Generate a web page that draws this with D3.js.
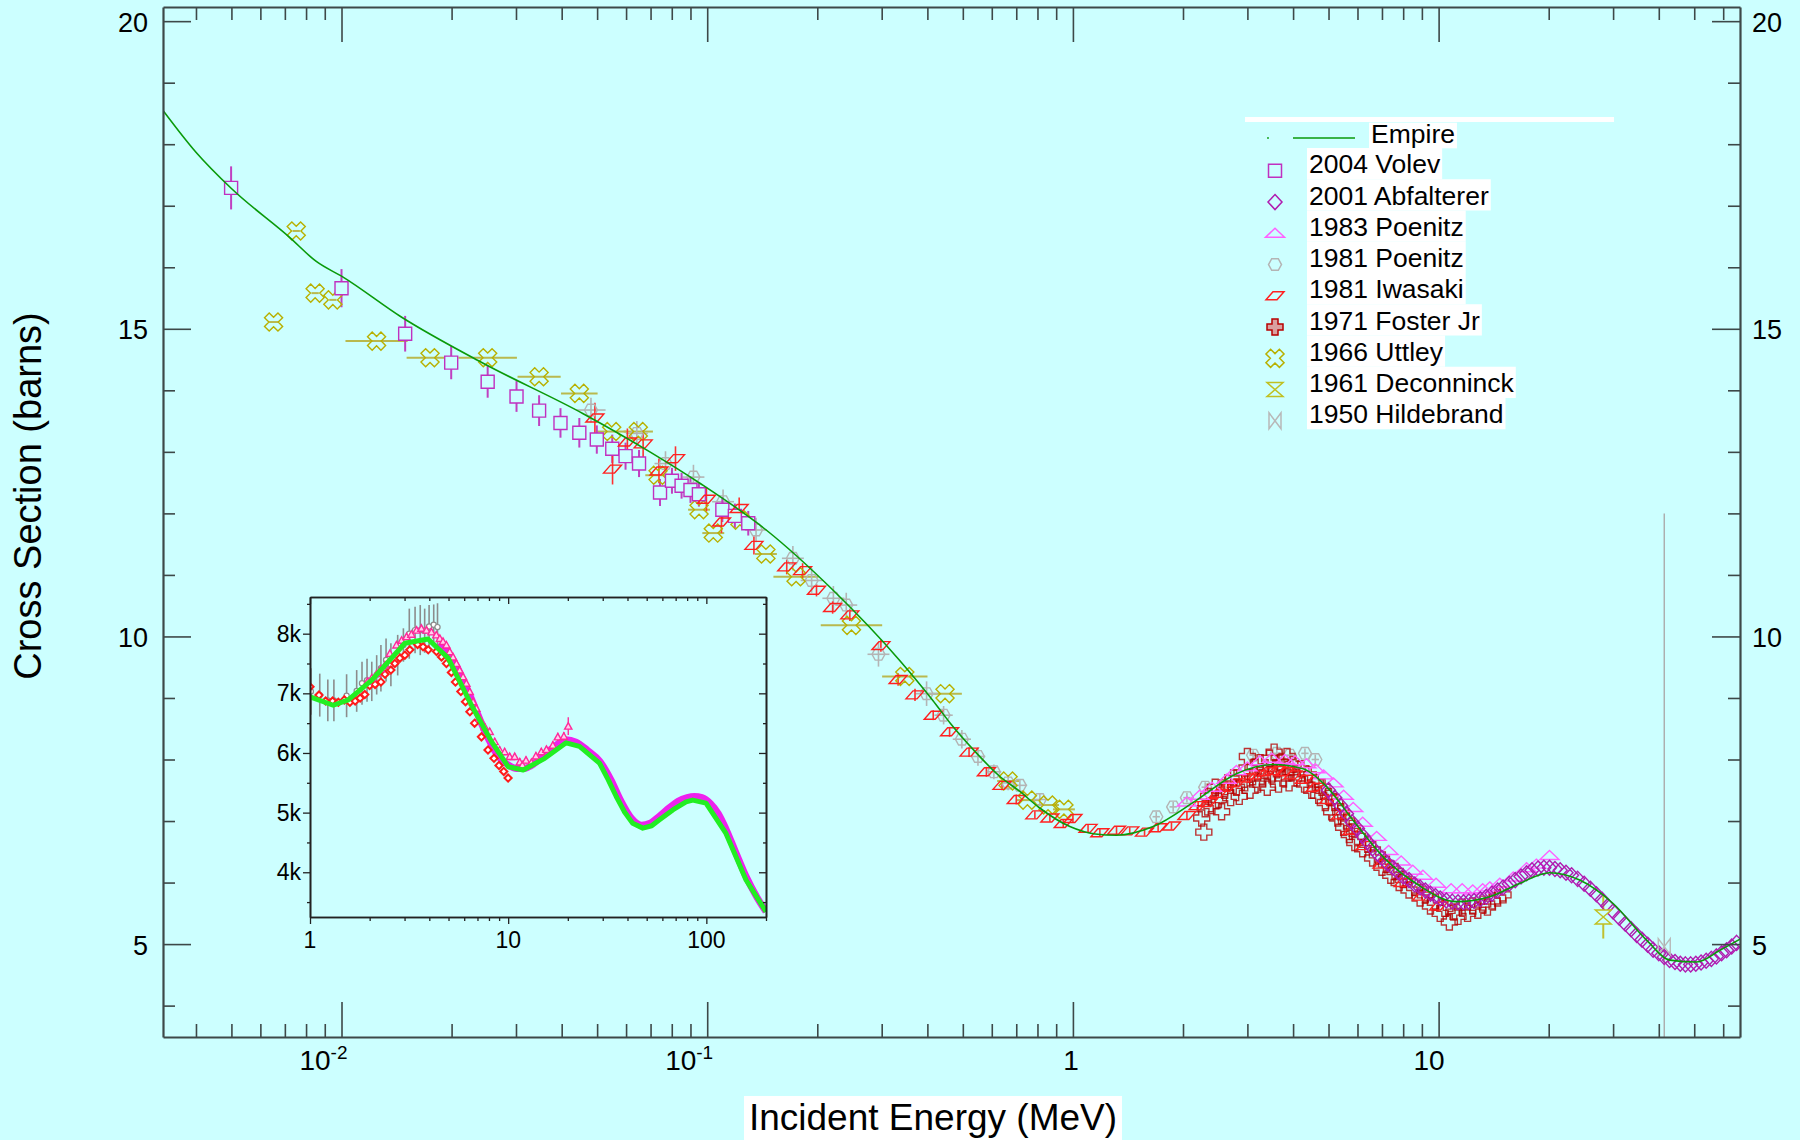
<!DOCTYPE html>
<html>
<head>
<meta charset="utf-8">
<script src="https://cdn.jsdelivr.net/npm/d3@7"></script>
<style>
  html, body { margin: 0; padding: 0; background: #ccffff; }
  svg { display: block; font-family: Arial, "Liberation Sans", sans-serif; }
</style>
</head>
<body>
<svg id="chart" width="1800" height="1140"></svg>
<script>
// ---------- Total cross section data (E in MeV, sigma in barns) ----------

// Model calculation
const empire = [
  [3.25e-3, 18.55], [4.0e-3, 17.87], [5.0e-3, 17.28], [7.2e-3, 16.49], [8.55e-3, 16.09],
  [0.0101, 15.84], [0.0145, 15.20], [0.0244, 14.44], [0.0458, 13.62], [0.0697, 13.00],
  [0.0955, 12.49], [0.145, 11.73], [0.221, 10.75], [0.336, 9.61], [0.414, 8.96],
  [0.462, 8.59], [0.542, 8.12], [0.627, 7.74], [0.716, 7.48], [0.808, 7.22],
  [0.981, 6.91], [1.15, 6.79], [1.316, 6.77], [1.658, 6.91], [2.18, 7.34],
  [2.80, 7.77], [3.53, 7.92], [4.26, 7.85], [4.94, 7.56], [5.84, 7.01],
  [7.21, 6.36], [8.7, 5.98], [11.19, 5.69], [13.8, 5.77], [16.7, 5.99],
  [20.1, 6.16], [24.3, 6.04], [30.0, 5.66], [37.1, 5.06], [42.9, 4.74],
  [50.8, 4.71], [58.8, 4.90], [66.7, 5.08]
];

// [E, sigma, dsigma]
const volev = [
  [0.00499, 17.29, 0.35], [0.0100, 15.66, 0.31], [0.01493, 14.92, 0.29], [0.01995, 14.45, 0.27],
  [0.0251, 14.14, 0.26], [0.0301, 13.90, 0.25], [0.0347, 13.67, 0.25], [0.0397, 13.47, 0.24],
  [0.0447, 13.31, 0.24], [0.0499, 13.20, 0.23], [0.0550, 13.05, 0.23], [0.0598, 12.93, 0.22],
  [0.0651, 12.81, 0.22], [0.0743, 12.34, 0.22], [0.0801, 12.53, 0.21], [0.0851, 12.45, 0.21],
  [0.0900, 12.38, 0.21], [0.0949, 12.31, 0.20], [0.110, 12.06, 0.20], [0.119, 11.96, 0.20],
  [0.1295, 11.84, 0.20]
];

// [E, sigma]
const abfalterer = [
  [5.0, 7.50], [5.2, 7.38], [5.4, 7.25], [5.6, 7.12], [5.8, 6.98], [6.0, 6.88], [6.2, 6.76],
  [6.4, 6.66], [6.6, 6.56], [6.8, 6.47], [7.0, 6.40], [7.25, 6.31], [7.5, 6.24], [7.75, 6.17],
  [8.0, 6.10], [8.3, 6.04], [8.6, 5.97], [8.9, 5.92], [9.2, 5.87], [9.5, 5.82], [9.8, 5.78],
  [10.1, 5.74], [10.5, 5.71], [10.9, 5.69], [11.3, 5.68], [11.7, 5.68], [12.1, 5.69], [12.5, 5.70],
  [13.0, 5.73], [13.5, 5.77], [14.0, 5.82], [14.5, 5.87], [15.0, 5.92], [15.6, 5.98], [16.2, 6.04],
  [16.8, 6.10], [17.4, 6.15], [18.0, 6.20], [18.7, 6.23], [19.4, 6.24], [20.1, 6.24], [20.8, 6.22],
  [21.5, 6.20], [22.3, 6.16], [23.1, 6.12], [24.0, 6.06], [25.0, 5.98], [26.0, 5.90], [27.0, 5.81],
  [28.0, 5.72], [29.0, 5.62], [30.0, 5.53], [31.2, 5.43], [32.4, 5.33], [33.6, 5.24], [34.8, 5.15],
  [36.0, 5.07], [37.3, 4.99], [38.6, 4.91], [40.0, 4.85], [41.4, 4.79], [42.8, 4.74], [44.3, 4.71],
  [45.8, 4.68], [47.3, 4.67], [48.9, 4.67], [50.5, 4.68], [52.2, 4.70], [53.9, 4.73], [55.7, 4.76],
  [57.5, 4.80], [59.4, 4.85], [61.3, 4.90], [63.3, 4.96], [65.3, 5.02]
];

// [E, sigma]
const poenitz1983 = [
  [2.05, 7.31], [2.22, 7.42], [2.4, 7.55], [2.63, 7.68], [2.8, 7.82], [3.0, 7.88], [3.25, 7.98],
  [3.5, 8.02], [3.8, 8.00], [4.05, 7.98], [4.35, 7.93], [4.6, 7.85], [4.85, 7.75], [5.16, 7.62],
  [5.5, 7.42], [5.84, 7.22], [6.2, 6.98], [6.77, 6.75], [7.3, 6.52], [7.9, 6.35], [8.5, 6.20],
  [9.06, 6.12], [9.84, 5.99], [10.82, 5.90], [11.6, 5.90], [12.4, 5.88], [13.2, 5.90], [13.8, 5.93],
  [14.7, 5.99], [16.0, 6.09], [17.4, 6.24], [18.5, 6.30], [20.1, 6.44]
];

// [E, sigma, dsigma, dlog10(E)]
const poenitz1981 = [
  [0.0481, 13.68, 0.20, 0.040], [0.0642, 13.30, 0.20, 0.030], [0.0769, 12.81, 0.20, 0.030],
  [0.0917, 12.59, 0.20, 0.030], [0.1105, 12.19, 0.20, 0.030], [0.136, 11.73, 0.20, 0.030],
  [0.1715, 11.27, 0.20, 0.030], [0.193, 10.91, 0.20, 0.030], [0.2213, 10.62, 0.20, 0.030],
  [0.240, 10.51, 0.20, 0.030], [0.294, 9.71, 0.20, 0.030], [0.398, 9.07, 0.20, 0.030],
  [0.443, 8.72, 0.15, 0.025], [0.497, 8.33, 0.15, 0.025], [0.550, 8.05, 0.15, 0.020],
  [0.608, 7.80, 0.12, 0.020], [0.665, 7.62, 0.12, 0.020], [0.716, 7.58, 0.10, 0.020],
  [0.812, 7.35, 0.10, 0.020], [1.69, 7.07, 0.08, 0.010], [1.88, 7.23, 0.08, 0.010],
  [2.05, 7.38, 0.08, 0.010], [2.30, 7.55, 0.08, 0.010], [3.11, 8.07, 0.08, 0.010],
  [3.61, 8.10, 0.08, 0.010], [3.92, 8.07, 0.08, 0.010], [4.31, 8.10, 0.08, 0.010],
  [4.60, 8.00, 0.08, 0.010]
];

// [E, sigma, dsigma]
const iwasaki = [
  [0.0493, 13.55, 0.25], [0.0551, 12.72, 0.25], [0.0605, 13.16, 0.22], [0.0668, 13.13, 0.22],
  [0.0738, 12.69, 0.20], [0.0819, 12.89, 0.20], [0.0995, 12.23, 0.20], [0.1094, 11.86, 0.18],
  [0.1223, 12.08, 0.18], [0.1342, 11.48, 0.15], [0.165, 11.13, 0.12], [0.1823, 11.07, 0.12],
  [0.199, 10.75, 0.10], [0.2203, 10.47, 0.10], [0.2455, 10.35, 0.10], [0.2985, 9.85, 0.10],
  [0.3327, 9.30, 0.10], [0.37, 9.05, 0.10], [0.415, 8.72, 0.08], [0.46, 8.45, 0.08],
  [0.52, 8.12, 0.08], [0.58, 7.80, 0.08], [0.64, 7.58, 0.08], [0.70, 7.35, 0.08],
  [0.787, 7.10, 0.06], [0.865, 7.05, 0.06], [0.941, 6.96, 0.06], [1.0, 7.04, 0.06],
  [1.10, 6.88, 0.06], [1.185, 6.81, 0.06], [1.316, 6.85, 0.06], [1.43, 6.84, 0.06],
  [1.57, 6.82, 0.06], [1.71, 6.89, 0.06], [1.86, 6.92, 0.06], [2.05, 7.09, 0.06],
  [2.2, 7.25, 0.06], [2.35, 7.30, 0.06], [2.5, 7.45, 0.06], [2.65, 7.55, 0.06],
  [2.8, 7.62, 0.06], [3.0, 7.70, 0.06], [3.2, 7.75, 0.06], [3.4, 7.80, 0.06],
  [3.6, 7.82, 0.06], [3.8, 7.80, 0.06], [4.0, 7.75, 0.06], [4.3, 7.68, 0.06],
  [4.6, 7.55, 0.06], [5.0, 7.35, 0.06], [5.4, 7.10, 0.06], [5.8, 6.85, 0.06],
  [6.3, 6.60, 0.06], [7.0, 6.30, 0.06], [8.0, 6.00, 0.06], [9.0, 5.78, 0.06],
  [10.0, 5.62, 0.06]
];

// [E, sigma]
const fosterJr = [
  [2.25, 7.05], [2.28, 6.82], [2.3, 7.20], [2.35, 7.40], [2.4, 7.25], [2.45, 7.55], [2.5, 7.35],
  [2.55, 7.15], [2.6, 7.50], [2.65, 7.62], [2.7, 7.38], [2.75, 7.70], [2.8, 7.55], [2.85, 7.40],
  [2.9, 7.78], [2.95, 7.62], [3.0, 8.05], [3.05, 7.50], [3.1, 7.72], [3.15, 7.88], [3.2, 7.60],
  [3.25, 7.95], [3.3, 7.70], [3.35, 7.82], [3.4, 7.55], [3.45, 8.02], [3.5, 7.75], [3.55, 8.12],
  [3.6, 7.85], [3.65, 7.60], [3.7, 7.95], [3.75, 7.70], [3.8, 7.88], [3.85, 8.05], [3.9, 7.62],
  [3.95, 7.80], [4.0, 7.92], [4.1, 7.70], [4.2, 7.85], [4.3, 7.60], [4.4, 7.75], [4.5, 7.50],
  [4.6, 7.62], [4.7, 7.42], [4.8, 7.55], [4.9, 7.30], [5.0, 7.40], [5.1, 7.15], [5.2, 7.30],
  [5.3, 7.05], [5.4, 7.15], [5.5, 6.90], [5.6, 7.00], [5.7, 6.78], [5.8, 6.88], [5.9, 6.65],
  [6.0, 6.75], [6.2, 6.55], [6.4, 6.62], [6.6, 6.40], [6.8, 6.45], [7.0, 6.25], [7.2, 6.30],
  [7.4, 6.12], [7.6, 6.18], [7.8, 6.00], [8.0, 6.05], [8.3, 5.88], [8.6, 5.92], [8.9, 5.75],
  [9.2, 5.80], [9.5, 5.62], [9.8, 5.68], [10.1, 5.50], [10.4, 5.58], [10.7, 5.36], [11.0, 5.52],
  [11.3, 5.45], [11.6, 5.60], [12.0, 5.50], [12.4, 5.62], [12.8, 5.55], [13.2, 5.65], [13.6, 5.60],
  [14.0, 5.70], [14.5, 5.75], [15.0, 5.80]
];

// [E, sigma, dlog10(E)]
const uttley = [
  [6.52e-3, 15.11, 0.012], [7.52e-3, 16.59, 0.010], [8.47e-3, 15.58, 0.010], [9.47e-3, 15.47, 0.010],
  [0.01247, 14.80, 0.085], [0.01746, 14.53, 0.064], [0.0251, 14.53, 0.080], [0.0347, 14.22, 0.059],
  [0.0447, 13.95, 0.050], [0.0548, 13.33, 0.040], [0.0648, 13.33, 0.040], [0.0734, 12.62, 0.035],
  [0.095, 12.06, 0.030], [0.1039, 11.68, 0.030], [0.1229, 11.89, 0.030], [0.1447, 11.34, 0.030],
  [0.175, 10.97, 0.062], [0.248, 10.18, 0.084], [0.347, 9.35, 0.062], [0.447, 9.07, 0.046],
  [0.665, 7.65, 0.030], [0.751, 7.34, 0.030], [0.855, 7.26, 0.030], [0.945, 7.19, 0.030]
];

// [E, sigma, dsigma]
const deconninck = [[28.2, 5.44, 0.35]];
const hildebrand = [[41.4, 4.96, 7.04]];

// ---------- Inset: 1 - 200 MeV, cross section in thousands of mb ----------
const insetEmpire = [
  [1.0, 6.94], [1.31, 6.80], [1.56, 6.89], [2.05, 7.22], [3.01, 7.84], [3.94, 7.91], [4.98, 7.59],
  [6.53, 6.80], [8.24, 6.19], [10.0, 5.77], [11.9, 5.715], [15.3, 5.91], [19.6, 6.17], [22.9, 6.11],
  [28.9, 5.83], [32.0, 5.55], [35.1, 5.27], [38.5, 5.02], [42.5, 4.82], [47.8, 4.74], [53.0, 4.78],
  [58.0, 4.88], [68.0, 5.05], [79.0, 5.18], [85.4, 5.21], [99.6, 5.16], [125.6, 4.65], [158.6, 3.87],
  [200.0, 3.34]
];
const insetBand = [
  [4.5, 7.85], [5.0, 7.68], [5.5, 7.45], [6.0, 7.18], [6.5, 6.92], [7.0, 6.66], [7.5, 6.42],
  [8.0, 6.22], [8.5, 6.05], [9.0, 5.93], [10.0, 5.80], [11.0, 5.74], [12.0, 5.74], [13.5, 5.82],
  [15.0, 5.95], [17.0, 6.10], [19.5, 6.22], [22.0, 6.18], [25.0, 6.05], [29.0, 5.86], [33.0, 5.55],
  [37.0, 5.20], [42.0, 4.90], [47.0, 4.79], [52.0, 4.82], [58.0, 4.94], [65.0, 5.08], [72.0, 5.19],
  [80.0, 5.25], [87.0, 5.27], [95.0, 5.25], [105.0, 5.15], [115.0, 4.98], [125.0, 4.74],
  [140.0, 4.35], [158.0, 3.94], [180.0, 3.58], [200.0, 3.34]
];
// [E, k, dk]
const insetGray = [
  [1.01, 7.03, 0.39], [1.12, 6.97, 0.36], [1.23, 6.88, 0.35], [1.32, 6.88, 0.35], [1.53, 6.96, 0.36],
  [1.72, 7.04, 0.35], [1.83, 7.17, 0.36], [1.94, 7.22, 0.36], [2.05, 7.20, 0.33], [2.17, 7.31, 0.33],
  [2.28, 7.42, 0.39], [2.42, 7.56, 0.36], [2.56, 7.48, 0.36], [2.77, 7.64, 0.34], [2.96, 7.81, 0.28],
  [3.17, 8.00, 0.42], [3.39, 8.06, 0.39], [3.60, 8.06, 0.42], [3.79, 8.05, 0.37], [3.99, 8.12, 0.36],
  [4.21, 8.15, 0.34], [4.40, 8.11, 0.40]
];
// [E, k]
const insetRed = [
  [1.0, 7.11], [1.11, 6.97], [1.2, 6.87], [1.3, 6.87], [1.39, 6.85], [1.49, 6.89], [1.59, 6.85],
  [1.69, 6.87], [1.79, 6.92], [1.89, 6.98], [2.0, 7.13], [2.13, 7.15], [2.28, 7.19], [2.39, 7.32],
  [2.56, 7.39], [2.68, 7.50], [2.84, 7.59], [3.01, 7.64], [3.19, 7.73], [3.49, 7.82], [3.72, 7.78],
  [3.95, 7.73], [4.35, 7.70], [4.61, 7.61], [4.88, 7.50], [5.17, 7.35], [5.42, 7.19], [5.77, 7.03],
  [6.09, 6.86], [6.41, 6.69], [6.77, 6.50], [7.33, 6.27], [7.91, 6.05], [8.48, 5.91], [8.99, 5.79],
  [9.50, 5.69], [9.99, 5.58]
];
// [E, k, dk]
const insetPink = [
  [1.95, 7.20, 0.05], [2.05, 7.26, 0.05], [2.17, 7.33, 0.05], [2.28, 7.41, 0.05], [2.39, 7.475, 0.05],
  [2.53, 7.67, 0.05], [2.73, 7.81, 0.05], [2.90, 7.89, 0.05], [3.07, 7.95, 0.05], [3.25, 7.99, 0.05],
  [3.45, 8.06, 0.05], [3.65, 8.09, 0.05], [3.87, 8.06, 0.05], [4.10, 8.03, 0.05], [4.34, 7.98, 0.05],
  [4.52, 7.92, 0.05], [4.69, 7.87, 0.05], [4.88, 7.81, 0.05], [5.07, 7.70, 0.05], [5.27, 7.61, 0.05],
  [5.48, 7.50, 0.05], [5.69, 7.39, 0.05], [5.92, 7.28, 0.05], [6.15, 7.17, 0.05], [6.40, 7.03, 0.05],
  [6.65, 6.86, 0.05], [6.91, 6.75, 0.05], [7.19, 6.58, 0.06], [7.62, 6.44, 0.06], [8.07, 6.36, 0.06],
  [8.55, 6.19, 0.06], [9.06, 6.05, 0.06], [9.60, 6.02, 0.06], [10.18, 5.94, 0.06], [10.79, 5.94, 0.06],
  [11.44, 5.85, 0.06], [11.8, 5.80, 0.06], [12.3, 5.88, 0.06], [13.1, 5.84, 0.06], [13.8, 5.95, 0.06],
  [14.7, 6.02, 0.06], [15.6, 6.06, 0.06], [16.8, 6.13, 0.07], [17.8, 6.27, 0.07], [19.1, 6.28, 0.07],
  [20.1, 6.45, 0.15]
];

// ---------- Axis ticks and legend ----------
const xMajorTicks = [0.01, 0.1, 1, 10];
const xTickLabels = [["10", "-2"], ["10", "-1"], ["1", ""], ["10", ""]];
const yMajorTicks = [5, 10, 15, 20];
const yMinorTicks = [4, 6, 7, 8, 9, 11, 12, 13, 14, 16, 17, 18, 19];
const insetXMajor = [1, 10, 100];
const insetXLabels = ["1", "10", "100"];
const insetYMajor = [4, 5, 6, 7, 8];
const insetYLabels = ["4k", "5k", "6k", "7k", "8k"];
const insetYMinor = [3.5, 4.5, 5.5, 6.5, 7.5, 8.5];
const legendNames = ["2004 Volev", "2001 Abfalterer", "1983 Poenitz", "1981 Poenitz", "1981 Iwasaki",
                     "1971 Foster Jr", "1966 Uttley", "1961 Deconninck", "1950 Hildebrand"];
const legendKeys = ["volev", "abfalterer", "poenitz1983", "poenitz1981", "iwasaki",
                    "foster", "uttley", "deconninck", "hildebrand"];

// ---------- Marker shapes ----------
const SHAPES = {
  square: "M-6.5,-6.5H6.5V6.5H-6.5Z",
  diamond: "M0,-7.5L7,0L0,7.5L-7,0Z",
  triangle: "M0,-5L9.5,4L-9.5,4Z",
  hexagon: "M-6.5,0L-3.3,-5.8L3.3,-5.8L6.5,0L3.3,5.8L-3.3,5.8Z",
  parallelogram: "M-2,-4L9,-4L2,4L-9,4Z",
  plus: "M-3,-8H3V-3H8V3H3V8H-3V3H-8V-3H-3Z",
  xcross: "M-3.3,-9.5H3.3V-3.3H9.5V3.3H3.3V9.5H-3.3V3.3H-9.5V-3.3H-3.3Z",
  hourglass: "M-8,-7H8L-8,7H8Z",
  bowtie: "M-6,-8V8L6,-8V8Z"
};
const STYLE = {
  volev:       { shape: "square",        color: "#c030c0", rot: 0 },
  abfalterer:  { shape: "diamond",       color: "#b01cb0", rot: 0 },
  poenitz1983: { shape: "triangle",      color: "#ff60ff", rot: 0 },
  poenitz1981: { shape: "hexagon",       color: "#b4b4b4", rot: 0 },
  iwasaki:     { shape: "parallelogram", color: "#ff2020", rot: 0 },
  foster:      { shape: "plus",          color: "#b80000", rot: 0 },
  uttley:      { shape: "xcross",        color: "#b8b000", rot: 45 },
  deconninck:  { shape: "hourglass",     color: "#c0c020", rot: 0 },
  hildebrand:  { shape: "bowtie",        color: "#b8b8b8", rot: 0 }
};

// ---------- Layout ----------
const svg = d3.select("#chart");
const P = { left: 163, right: 1740, top: 7, bottom: 1037 };
const x = d3.scaleLog().domain([3.25e-3, 66.7]).range([P.left, P.right]);
const y = d3.scaleLinear().domain([3.49, 20.23]).range([P.bottom, P.top]);
const AXIS = "#3d4848";

svg.append("rect").attr("width", 1800).attr("height", 1140).attr("fill", "#ccffff");

const defs = svg.append("defs");
defs.append("clipPath").attr("id", "plotClip")
  .append("rect").attr("x", P.left).attr("y", P.top)
  .attr("width", P.right - P.left).attr("height", P.bottom - P.top);

const dataG = svg.append("g").attr("clip-path", "url(#plotClip)");

function markers(g, rows, key, sx, sy, opts = {}) {
  const st = STYLE[key];
  g.append("g").selectAll("path").data(rows).join("path")
    .attr("d", opts.path || SHAPES[st.shape])
    .attr("transform", d => `translate(${sx(d[0])},${sy(d[1])})` + (st.rot ? ` rotate(${st.rot})` : ""))
    .attr("fill", opts.fill || "none")
    .attr("stroke", opts.color || st.color)
    .attr("stroke-width", opts.width || 1.4)
    .attr("stroke-opacity", opts.opacity || 1);
}
function vBars(g, rows, sx, sy, color, w) {
  g.append("g").selectAll("line").data(rows).join("line")
    .attr("x1", d => sx(d[0])).attr("x2", d => sx(d[0]))
    .attr("y1", d => sy(d[1] - d[2])).attr("y2", d => sy(d[1] + d[2]))
    .attr("stroke", color).attr("stroke-width", w || 1.6);
}
function hBars(g, rows, sx, sy, dIdx, color, w) {
  g.append("g").selectAll("line").data(rows).join("line")
    .attr("x1", d => sx(d[0] * Math.pow(10, -d[dIdx]))).attr("x2", d => sx(d[0] * Math.pow(10, d[dIdx])))
    .attr("y1", d => sy(d[1])).attr("y2", d => sy(d[1]))
    .attr("stroke", color).attr("stroke-width", w || 1.6);
}

// Hildebrand: a single point with a very large uncertainty
dataG.append("g").selectAll("line").data(hildebrand).join("line")
  .attr("x1", d => x(d[0])).attr("x2", d => x(d[0]))
  .attr("y1", d => y(d[1] + d[2])).attr("y2", d => y(Math.max(d[1] - d[2], 3.49)))
  .attr("stroke", "#aaaaaa").attr("stroke-width", 1.4);

// error bars
hBars(dataG, uttley, x, y, 2, "#b9b94e", 2);
hBars(dataG, poenitz1981, x, y, 3, "#b4b4b4", 1.6);
vBars(dataG, poenitz1981, x, y, "#b4b4b4", 1.6);
vBars(dataG, volev, x, y, "#c040c0", 2);
vBars(dataG, iwasaki, x, y, "#ff3030", 1.6);
vBars(dataG, deconninck, x, y, "#c0c030", 2);

// markers
markers(dataG, poenitz1981, "poenitz1981", x, y);
markers(dataG, uttley, "uttley", x, y);
markers(dataG, volev, "volev", x, y, { fill: "#ccffff" });
markers(dataG, fosterJr, "foster", x, y, { opacity: 0.8 });
markers(dataG, iwasaki, "iwasaki", x, y);
markers(dataG, poenitz1983, "poenitz1983", x, y);
markers(dataG, abfalterer, "abfalterer", x, y);
markers(dataG, deconninck, "deconninck", x, y, { fill: "#ccffff" });
markers(dataG, hildebrand, "hildebrand", x, y);

// model curve on top of the measurements
dataG.append("path").datum(empire)
  .attr("d", d3.line().x(d => x(d[0])).y(d => y(d[1])).curve(d3.curveMonotoneX))
  .attr("fill", "none").attr("stroke", "#0a9a0a").attr("stroke-width", 1.6);

// ---------- Main axes ----------
const xMinorTicks = x.ticks().filter(v => !xMajorTicks.some(m => Math.abs(v / m - 1) < 1e-6));
function styleAxis(g, keepDomain) {
  g.selectAll(".tick line").attr("stroke", AXIS).attr("stroke-width", 1.6);
  g.selectAll(".tick text").remove();
  if (keepDomain) g.select(".domain").attr("stroke", AXIS).attr("stroke-width", 2.2);
  else g.select(".domain").remove();
}
const axG = svg.append("g");
[[d3.axisBottom, P.bottom], [d3.axisTop, P.top]].forEach(([ax, pos]) => {
  axG.append("g").attr("transform", `translate(0,${pos})`)
    .call(ax(x).tickValues(xMinorTicks).tickSize(-13).tickSizeOuter(0).tickFormat(""))
    .call(g => styleAxis(g, false));
  axG.append("g").attr("transform", `translate(0,${pos})`)
    .call(ax(x).tickValues(xMajorTicks).tickSize(-35).tickSizeOuter(0).tickFormat(""))
    .call(g => styleAxis(g, true));
});
[[d3.axisLeft, P.left], [d3.axisRight, P.right]].forEach(([ax, pos]) => {
  axG.append("g").attr("transform", `translate(${pos},0)`)
    .call(ax(y).tickValues(yMinorTicks).tickSize(-12).tickSizeOuter(0).tickFormat(""))
    .call(g => styleAxis(g, false));
  axG.append("g").attr("transform", `translate(${pos},0)`)
    .call(ax(y).tickValues(yMajorTicks).tickSize(-28).tickSizeOuter(0).tickFormat(""))
    .call(g => styleAxis(g, true));
});

// tick labels
const labG = svg.append("g").attr("fill", "#000");
yMajorTicks.forEach(v => {
  labG.append("text").attr("x", 148).attr("y", y(v) + 10.5).attr("text-anchor", "end")
    .attr("font-size", 27).text(v);
  labG.append("text").attr("x", 1752).attr("y", y(v) + 10.5).attr("text-anchor", "start")
    .attr("font-size", 27).text(v);
});
xMajorTicks.forEach((v, i) => {
  const t = labG.append("text").attr("x", x(v) + 6).attr("y", 1070)
    .attr("text-anchor", "end").attr("font-size", 28);
  t.append("tspan").text(xTickLabels[i][0]);
  if (xTickLabels[i][1]) {
    t.append("tspan").attr("font-size", 19).attr("dy", -11).text(xTickLabels[i][1]);
  }
});

// axis titles
svg.append("rect").attr("x", 744).attr("y", 1096).attr("width", 378).attr("height", 44).attr("fill", "#fff");
svg.append("text").attr("x", 933).attr("y", 1130).attr("text-anchor", "middle")
  .attr("font-size", 37).text("Incident Energy (MeV)");
svg.append("text").attr("transform", "translate(41,496) rotate(-90)").attr("text-anchor", "middle")
  .attr("font-size", 38).text("Cross Section (barns)");

// ---------- Legend ----------
const legG = svg.append("g");
legG.append("rect").attr("x", 1245).attr("y", 117).attr("width", 369).attr("height", 5).attr("fill", "#fff");
legG.append("circle").attr("cx", 1268).attr("cy", 138).attr("r", 0.9).attr("fill", "#0a9a0a");
legG.append("line").attr("x1", 1293).attr("x2", 1355).attr("y1", 138).attr("y2", 138)
  .attr("stroke", "#0a9a0a").attr("stroke-width", 1.6);
function textWithBg(g, tx, base, str, up, down) {
  const t = g.append("text").attr("x", tx).attr("y", base).attr("font-size", 26.5).text(str);
  const w = t.node().getComputedTextLength();
  g.insert("rect", () => t.node()).attr("x", tx - 2).attr("y", base - up)
    .attr("width", w + 4).attr("height", up + down).attr("fill", "#fff");
}
textWithBg(legG, 1371, 143.3, "Empire", 20.6, 5);
legendNames.forEach((name, i) => {
  const base = 173.3 + 31.25 * i;
  textWithBg(legG, 1309, base, name, 25.3, 5.95);
  const st = STYLE[legendKeys[i]];
  legG.append("path").attr("d", SHAPES[st.shape])
    .attr("transform", `translate(1275,${base - 2.5})` + (st.rot ? ` rotate(${st.rot})` : ""))
    .attr("fill", legendKeys[i] === "foster" ? "#d9a0a0" : "none")
    .attr("stroke", st.color).attr("stroke-width", 1.5);
});

// ---------- Inset ----------
const I = { left: 310, right: 766, top: 597, bottom: 917 };
const ix = d3.scaleLog().domain([1, 200]).range([I.left, I.right]);
const iy = d3.scaleLinear().domain([3.25, 8.615]).range([I.bottom, I.top]);
defs.append("clipPath").attr("id", "insetClip")
  .append("rect").attr("x", I.left).attr("y", I.top)
  .attr("width", I.right - I.left).attr("height", I.bottom - I.top);
const inG = svg.append("g").attr("clip-path", "url(#insetClip)");

vBars(inG, insetGray, ix, iy, "#8c8c8c", 1.6);
inG.append("g").selectAll("path").data(insetBand.length ? [insetBand] : []).join("path")
  .attr("d", d3.line().x(d => ix(d[0])).y(d => iy(d[1])).curve(d3.curveMonotoneX))
  .attr("fill", "none").attr("stroke", "#ee22ee").attr("stroke-width", 7);
inG.append("g").selectAll("circle").data(insetGray).join("circle")
  .attr("cx", d => ix(d[0])).attr("cy", d => iy(d[1])).attr("r", 2.6)
  .attr("fill", "#fff").attr("stroke", "#8c8c8c").attr("stroke-width", 1.2);
inG.append("g").selectAll("path").data(insetRed).join("path")
  .attr("d", "M0,-3.6L3.6,0L0,3.6L-3.6,0Z")
  .attr("transform", d => `translate(${ix(d[0])},${iy(d[1])})`)
  .attr("fill", "#fff").attr("stroke", "#ff1a1a").attr("stroke-width", 2);
vBars(inG, insetPink, ix, iy, "#ff2a9a", 1.4);
inG.append("g").selectAll("path").data(insetPink).join("path")
  .attr("d", "M0,-3.5L3.6,3L-3.6,3Z")
  .attr("transform", d => `translate(${ix(d[0])},${iy(d[1])})`)
  .attr("fill", "#ffd0ee").attr("stroke", "#ff2a9a").attr("stroke-width", 1.4);
inG.append("path").datum(insetEmpire)
  .attr("d", d3.line().x(d => ix(d[0])).y(d => iy(d[1])))
  .attr("fill", "none").attr("stroke", "#22ee22").attr("stroke-width", 5)
  .attr("stroke-linejoin", "round");

// inset frame and ticks
const inAx = svg.append("g");
const insetXMinor = ix.ticks().filter(v => !insetXMajor.includes(v));
function styleInset(g) {
  g.selectAll(".tick line").attr("stroke", "#222").attr("stroke-width", 1.3);
  g.selectAll(".tick text").remove();
  g.select(".domain").attr("stroke", "#222").attr("stroke-width", 1.6);
}
[[d3.axisBottom, I.bottom, 1], [d3.axisTop, I.top, -1]].forEach(([ax, pos, s]) => {
  inAx.append("g").attr("transform", `translate(0,${pos})`)
    .call(ax(ix).tickValues(insetXMinor).tickSize(s * 4).tickSizeOuter(0).tickFormat("")).call(styleInset);
  inAx.append("g").attr("transform", `translate(0,${pos})`)
    .call(ax(ix).tickValues(insetXMajor).tickSize(s * 7).tickSizeOuter(0).tickFormat("")).call(styleInset);
});
[[d3.axisLeft, I.left, 1], [d3.axisRight, I.right, -1]].forEach(([ax, pos, s]) => {
  inAx.append("g").attr("transform", `translate(${pos},0)`)
    .call(ax(iy).tickValues(insetYMinor).tickSize(s * 3).tickSizeOuter(0).tickFormat("")).call(styleInset);
  inAx.append("g").attr("transform", `translate(${pos},0)`)
    .call(ax(iy).tickValues(insetYMajor).tickSize(s * 7).tickSizeOuter(0).tickFormat("")).call(styleInset);
});
insetXMajor.forEach((v, i) => {
  inAx.append("text").attr("x", ix(v)).attr("y", 948).attr("text-anchor", "middle")
    .attr("font-size", 23).text(insetXLabels[i]);
});
insetYMajor.forEach((v, i) => {
  inAx.append("text").attr("x", 301).attr("y", iy(v) + 8).attr("text-anchor", "end")
    .attr("font-size", 23).text(insetYLabels[i]);
});
</script>
</body>
</html>
